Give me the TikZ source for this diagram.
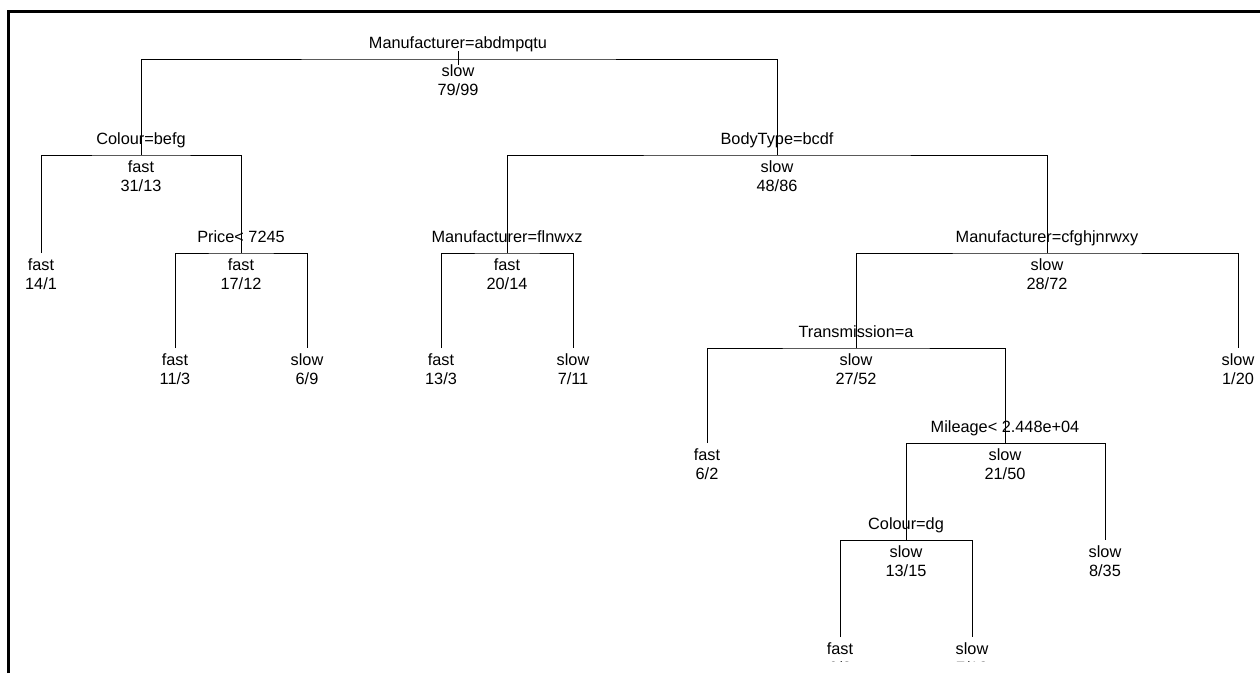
\documentclass[tikz,border=0pt]{standalone}
\usepackage{fontspec}
\setmainfont{Liberation Sans}
\tikzset{
  txt/.style={anchor=base, inner sep=0pt, outer sep=0pt, font=\fontsize{16.3}{19}\selectfont, text=black},
  branch/.style={draw=black, line width=0.9pt},
  frame/.style={draw=black, line width=3pt},
}
\newcommand{\treeleaf}[5]{%
  \coordinate (#1) at (#2,#3);
  \node[txt] (#1c) at ([yshift=-17pt]#1) {#4};
  \node[txt] (#1n) at ([yshift=-36pt]#1) {#5};
}
\newcommand{\treesplit}[6]{%
  \treeleaf{#1}{#2}{#3}{#5}{#6}%
  \node[txt] (#1s) at ([yshift=10.5pt]#1) {#4};
}
\begin{document}
\begin{tikzpicture}[x=1pt,y=-1pt]
\useasboundingbox (0,0) rectangle (1260,673);
% frame
\coordinate (fbl) at (8.5,673);
\coordinate (ftl) at (8.5,11.5);
\coordinate (ftr) at (1260,11.5);
\draw[frame] (fbl) -- (ftl) -- (ftr);
\begin{scope}
\clip (0,0) rectangle (1260,661);
% nodes
\treesplit{r}{458}{59}{Manufacturer=abdmpqtu}{slow}{79/99}
\treesplit{a}{141}{155}{Colour=befg}{fast}{31/13}
\treeleaf{aa}{41}{253}{fast}{14/1}
\treesplit{ab}{241}{253}{Price< 7245}{fast}{17/12}
\treeleaf{aba}{175}{348}{fast}{11/3}
\treeleaf{abb}{307}{348}{slow}{6/9}
\treesplit{b}{777}{155}{BodyType=bcdf}{slow}{48/86}
\treesplit{ba}{507}{253}{Manufacturer=flnwxz}{fast}{20/14}
\treeleaf{baa}{441}{348}{fast}{13/3}
\treeleaf{bab}{573}{348}{slow}{7/11}
\treesplit{bb}{1047}{253}{Manufacturer=cfghjnrwxy}{slow}{28/72}
\treesplit{bba}{856}{348}{Transmission=a}{slow}{27/52}
\treeleaf{bbb}{1238}{348}{slow}{1/20}
\treeleaf{bbaa}{707}{443}{fast}{6/2}
\treesplit{bbab}{1005}{443}{Mileage< 2.448e+04}{slow}{21/50}
\treesplit{bbaba}{906}{540}{Colour=dg}{slow}{13/15}
\treeleaf{bbabb}{1105}{540}{slow}{8/35}
\treeleaf{bbabaa}{840}{637}{fast}{6/2}
\treeleaf{bbabab}{972}{637}{slow}{7/13}
% root stub
\coordinate (rtop) at (458,51);
\coordinate (rbot) at (458,65);
\draw[branch] (rtop) -- (rbot);
% branches
\draw[branch] (a) |- (r) -| (b);
\draw[branch] (aa) |- (a) -| (ab);
\draw[branch] (aba) |- (ab) -| (abb);
\draw[branch] (ba) |- (b) -| (bb);
\draw[branch] (baa) |- (ba) -| (bab);
\draw[branch] (bba) |- (bb) -| (bbb);
\draw[branch] (bbaa) |- (bba) -| (bbab);
\draw[branch] (bbaba) |- (bbab) -| (bbabb);
\draw[branch] (bbabaa) |- (bbaba) -| (bbabab);
\end{scope}
\end{tikzpicture}
\end{document}
